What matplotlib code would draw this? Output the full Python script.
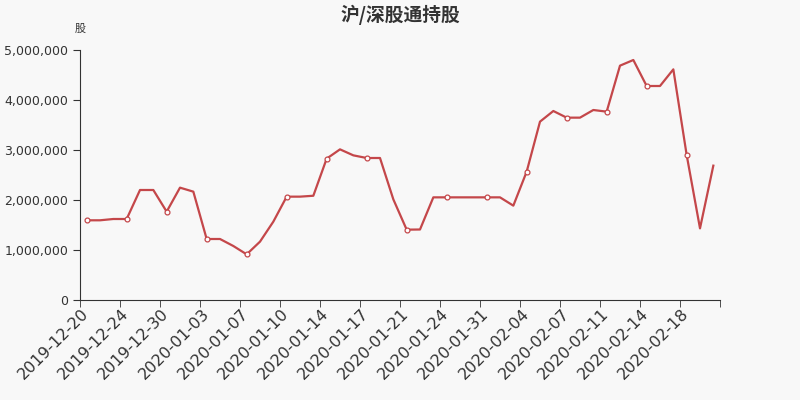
import numpy as np
import matplotlib
matplotlib.use('Agg')
import matplotlib.pyplot as plt
from matplotlib.ticker import FuncFormatter

plt.rcParams['font.family'] = ['DejaVu Sans', 'Noto Sans CJK SC']
cjk = ['Noto Sans CJK SC', 'DejaVu Sans']

# trading dates (only every third one is labelled)
dates = ['2019-12-20', '2019-12-23', '2019-12-23', '2019-12-24', '2019-12-25', '2019-12-27',
         '2019-12-30', '2019-12-31', '2020-01-02', '2020-01-03', '2020-01-04', '2020-01-06',
         '2020-01-07', '2020-01-08', '2020-01-09', '2020-01-10', '2020-01-11', '2020-01-13',
         '2020-01-14', '2020-01-15', '2020-01-16', '2020-01-17', '2020-01-18', '2020-01-20',
         '2020-01-21', '2020-01-22', '2020-01-23', '2020-01-24', '2020-01-28', '2020-01-30',
         '2020-01-31', '2020-02-01', '2020-02-03', '2020-02-04', '2020-02-05', '2020-02-06',
         '2020-02-07', '2020-02-08', '2020-02-10', '2020-02-11', '2020-02-12', '2020-02-13',
         '2020-02-14', '2020-02-15', '2020-02-17', '2020-02-18', '2020-02-19', '2020-02-20']

# holdings in shares
holdings = [1594000, 1594000, 1620000, 1620000, 2200000, 2200000,
            1767000, 2247000, 2167000, 1220000, 1220000, 1080000,
            913000, 1167000, 1567000, 2067000, 2067000, 2085000,
            2827000, 3013000, 2893000, 2840000, 2840000, 2013000,
            1407000, 1410000, 2053000, 2053000, 2053000, 2053000,
            2053000, 2053000, 1887000, 2567000, 3567000, 3780000,
            3647000, 3647000, 3800000, 3767000, 4687000, 4800000,
            4280000, 4280000, 4613000, 2900000, 1433000, 2687000]

line_color = '#c4474a'
bg = '#f8f8f8'
text_color = '#333333'

fig = plt.figure(figsize=(8, 4), dpi=100, facecolor=bg)
ax = fig.add_axes([0.1, 0.25, 0.8, 0.625], facecolor=bg)

x = np.arange(len(holdings))
ax.plot(x, holdings, color=line_color, linewidth=1.6, zorder=2)
# markers on the labelled dates
ax.plot(x[::3], np.array(holdings)[::3], linestyle='none', marker='o', markersize=3.5,
        markerfacecolor='white', markeredgecolor=line_color, markeredgewidth=0.9, zorder=3)

ax.set_xlim(-0.5, len(holdings) - 0.5)
ax.set_ylim(0, 5000000)
ax.set_yticks(np.arange(0, 5000001, 1000000))
ax.yaxis.set_major_formatter(FuncFormatter(lambda v, p: f'{int(v):,}'))

# labels on category centres, tick marks on category boundaries
ax.set_xticks(x[::3])
ax.set_xticklabels([dates[i] for i in x[::3]], rotation=45, ha='right', va='center',
                   rotation_mode='anchor', fontsize=11.5, color=text_color)
ax.set_xticks(np.arange(-0.5, len(holdings), 3), minor=True)
ax.tick_params(axis='x', which='major', length=0, pad=8)
ax.tick_params(axis='x', which='minor', length=5, color=text_color)
ax.tick_params(axis='y', length=5, labelsize=9, labelcolor=text_color, color=text_color)

for side in ['top', 'right']:
    ax.spines[side].set_visible(False)
for side in ['left', 'bottom']:
    ax.spines[side].set_color(text_color)

fig.text(0.5, 0.963, '沪/深股通持股', ha='center', va='center', fontsize=13.5,
         fontweight='bold', color=text_color, family=cjk)
fig.text(0.1, 0.928, '股', ha='center', va='center', fontsize=8, color=text_color, family=cjk)

fig.savefig('out.png', dpi=100, facecolor=bg)
